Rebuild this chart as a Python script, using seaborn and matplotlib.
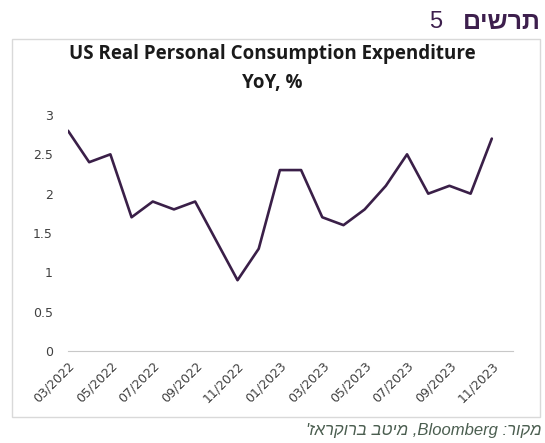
import matplotlib
matplotlib.use("Agg")
import matplotlib.pyplot as plt
import seaborn as sns
import pandas as pd
from matplotlib.patches import Rectangle

months = ["03/2022", "04/2022", "05/2022", "06/2022", "07/2022", "08/2022", "09/2022",
          "10/2022", "11/2022", "12/2022", "01/2023", "02/2023", "03/2023", "04/2023",
          "05/2023", "06/2023", "07/2023", "08/2023", "09/2023", "10/2023", "11/2023"]
pce_yoy = [2.8, 2.4, 2.5, 1.7, 1.9, 1.8, 1.9, 1.4, 0.9, 1.3, 2.3, 2.3, 1.7, 1.6,
           1.8, 2.1, 2.5, 2.0, 2.1, 2.0, 2.7]
y_ticks = [0, 0.5, 1, 1.5, 2, 2.5, 3]
y_tick_labels = ["0", "0.5", "1", "1.5", "2", "2.5", "3"]

df = pd.DataFrame({"idx": range(len(months)), "month": months, "value": pce_yoy})

sns.set_style("white")
plt.rcParams["font.family"] = ["DejaVu Sans"]

fig = plt.figure(figsize=(5.45, 4.43), dpi=100)

# chart frame
fig.patches.append(Rectangle((12 / 545, 1 - 417 / 443), 528 / 545, 378 / 443,
                             transform=fig.transFigure, fill=False,
                             edgecolor="#d9d9d9", linewidth=1.0))

ax = fig.add_axes([68 / 545, 1 - 351 / 443, 445 / 545, 236 / 443])
sns.lineplot(data=df, x="idx", y="value", ax=ax, color="#3a1f48", linewidth=1.9)

ax.set_xlim(0, len(months))
ax.set_ylim(0, 3)
ax.set_yticks(y_ticks)
ax.set_yticklabels(y_tick_labels, fontsize=9, color="#404040")
ax.set_xticks(df["idx"][::2])
ax.set_xticklabels(df["month"][::2], rotation=45, ha="right", rotation_mode="anchor",
                   fontsize=9, color="#404040")
ax.tick_params(axis="y", length=0, pad=11)
ax.tick_params(axis="x", length=4, color="#c8c8c8", width=0.8, direction="out", pad=2)
ax.set_xlabel("")
ax.set_ylabel("")
for s in ["top", "right", "left"]:
    ax.spines[s].set_visible(False)
ax.spines["bottom"].set_color("#c8c8c8")
ax.spines["bottom"].set_linewidth(0.8)
ax.patch.set_alpha(0)

fig.text(272 / 545, 1 - 54 / 443, "US Real Personal Consumption Expenditure",
         ha="center", va="center", fontsize=13.5, fontweight="bold", family="Open Sans",
         color="#1a1a1a")
fig.text(272 / 545, 1 - 83 / 443, "YoY, %", ha="center", va="center", fontsize=13.5,
         fontweight="bold", family="Open Sans", color="#1a1a1a")

# header (Hebrew written in visual order)
fig.text(541 / 545, 1 - 22 / 443, "םישרת", ha="right", va="center", fontsize=18,
         fontweight="bold", family="Liberation Sans", color="#3d1f4d")
fig.text(436 / 545, 1 - 22 / 443, "5", ha="center", va="center", fontsize=17,
         family="Liberation Sans", color="#3d1f4d")

# source
fig.text(541 / 545, 1 - 431 / 443, "'זארקורב בטימ ,Bloomberg :רוקמ", ha="right",
         va="center", fontsize=12, style="italic", family="Liberation Sans",
         color="#4b5e50")

fig.savefig("out.png", dpi=100)
